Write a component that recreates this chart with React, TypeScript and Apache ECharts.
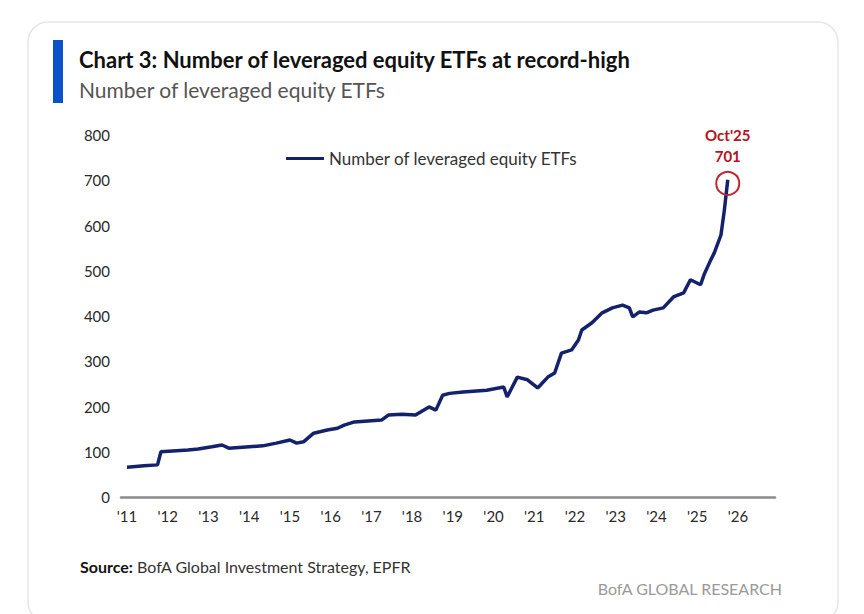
import React, { useEffect, useRef } from "react";
import * as echarts from "echarts";

const seriesName = "Number of leveraged equity ETFs";
const titleText = "Chart 3: Number of leveraged equity ETFs at record-high";
const subtitleText = "Number of leveraged equity ETFs";
const sourceLabel = "Source:";
const sourceText = " BofA Global Investment Strategy, EPFR";
const brandText = "BofA GLOBAL RESEARCH";

const months = [
  "2011-01", "2011-06", "2011-10", "2011-11", "2012-07", "2012-10", "2013-02", "2013-05",
  "2013-07", "2014-05", "2014-09", "2015-01", "2015-03", "2015-05", "2015-08", "2015-12",
  "2016-03", "2016-05", "2016-08", "2017-04", "2017-06", "2017-10", "2018-02", "2018-06",
  "2018-08", "2018-10", "2018-12", "2019-04", "2019-11", "2020-04", "2020-05", "2020-08",
  "2020-11", "2021-02", "2021-05", "2021-07", "2021-09", "2021-12", "2022-02", "2022-03",
  "2022-06", "2022-09", "2022-12", "2023-03", "2023-05", "2023-06", "2023-08", "2023-10",
  "2023-12", "2024-03", "2024-06", "2024-09", "2024-11", "2025-02", "2025-03", "2025-05",
  "2025-06", "2025-08", "2025-09", "2025-10",
];
const etfCounts = [
  66, 69, 71, 100, 104, 106, 111, 115,
  108, 113, 119, 126, 119, 122, 141, 148,
  152, 159, 166, 170, 181, 183, 181, 199,
  192, 225, 229, 232, 236, 243, 221, 265,
  259, 241, 265, 274, 318, 325, 347, 369,
  385, 407, 418, 424, 418, 398, 409, 407,
  413, 418, 442, 451, 480, 469, 491, 524,
  539, 579, 634, 701,
];
const yearTicks = [2011, 2012, 2013, 2014, 2015, 2016, 2017, 2018, 2019, 2020, 2021, 2022, 2023, 2024, 2025, 2026];
const monthNames = ["Jan", "Feb", "Mar", "Apr", "May", "Jun", "Jul", "Aug", "Sep", "Oct", "Nov", "Dec"];

const toYear = (s: string) => {
  const [y, m] = s.split("-").map(Number);
  return y + (m - 1) / 12;
};

const FONT = "Lato";

export default function App() {
  const ref = useRef<HTMLDivElement>(null);
  useEffect(() => {
    document.body.style.margin = "0";
    if (!ref.current) return;
    const chart = echarts.init(ref.current, null, { renderer: "svg" });
    const data = months.map((m, i) => [toYear(m), etfCounts[i]]);
    const last = data[data.length - 1];
    const lastMonth = months[months.length - 1];
    const [ly, lm] = lastMonth.split("-").map(Number);
    const annot = `${monthNames[lm - 1]}'${String(ly).slice(2)}\n${etfCounts[etfCounts.length - 1]}`;

    chart.setOption({
      animation: false,
      backgroundColor: "#ffffff",
      textStyle: { fontFamily: FONT },
      grid: { left: 121, right: 89, top: 135, bottom: 117, containLabel: false },
      legend: {
        left: 281,
        top: 145,
        icon: "rect",
        itemWidth: 38,
        itemHeight: 3,
        textStyle: { fontFamily: FONT, fontSize: 17, color: "#333333" },
        data: [seriesName],
      },
      xAxis: {
        type: "value",
        min: 2010.853,
        max: 2026.91,
        axisLine: { show: true, lineStyle: { color: "#8a8a8a", width: 2.5 } },
        axisTick: { show: false },
        splitLine: { show: false },
        axisLabel: {
          customValues: yearTicks,
          formatter: (v: number) => "'" + String(Math.round(v)).slice(2),
          fontFamily: FONT,
          fontSize: 15,
          color: "#2a2a2a",
          margin: 11,
        },
      },
      yAxis: {
        type: "value",
        min: 0,
        max: 800,
        interval: 100,
        axisLine: { show: false },
        axisTick: { show: false },
        splitLine: { show: false },
        axisLabel: { fontFamily: FONT, fontSize: 15, color: "#2a2a2a", margin: 11 },
      },
      series: [
        {
          name: seriesName,
          type: "line",
          data,
          showSymbol: false,
          lineStyle: { color: "#13226b", width: 3.5 },
          itemStyle: { color: "#13226b" },
          z: 3,
          markPoint: {
            symbol: "circle",
            symbolSize: 23,
            silent: true,
            itemStyle: { color: "rgba(255,255,255,0)", borderColor: "#c0272d", borderWidth: 2 },
            label: {
              show: true,
              position: "top",
              distance: 4,
              formatter: annot,
              fontFamily: FONT,
              fontSize: 15,
              fontWeight: "bold",
              lineHeight: 21,
              color: "#b5121b",
            },
            data: [{ coord: [last[0], last[1] - 8] }],
          },
        },
      ],
      graphic: [
        {
          type: "rect",
          shape: { x: 28, y: 22, width: 810, height: 600, r: 20 },
          style: { fill: "#ffffff", stroke: "#e6e6e6", lineWidth: 1.5 },
          z: -10,
        },
        {
          type: "rect",
          shape: { x: 53, y: 40, width: 10, height: 63 },
          style: { fill: "#0a52c9" },
        },
        {
          type: "text",
          x: 79,
          y: 59,
          style: {
            text: titleText,
            fontFamily: FONT,
            fontSize: 22,
            fontWeight: "bold",
            fill: "#111111",
            verticalAlign: "middle",
          },
        },
        {
          type: "text",
          x: 79,
          y: 89,
          style: {
            text: subtitleText,
            fontFamily: FONT,
            fontSize: 21,
            fill: "#555555",
            verticalAlign: "middle",
          },
        },
        {
          type: "text",
          x: 80,
          y: 566,
          style: {
            text: `{b|${sourceLabel}}{r|${sourceText}}`,
            verticalAlign: "middle",
            rich: {
              b: { fontFamily: FONT, fontSize: 16, fontWeight: "bold", fill: "#111111", color: "#111111" },
              r: { fontFamily: FONT, fontSize: 16, fill: "#333333", color: "#333333" },
            },
          },
        },
        {
          type: "text",
          x: 782,
          y: 588,
          style: {
            text: brandText,
            fontFamily: FONT,
            fontSize: 16,
            fill: "#9a9a9a",
            align: "right",
            verticalAlign: "middle",
          },
        },
      ],
    });
    return () => chart.dispose();
  }, []);
  return <div ref={ref} style={{ width: 864, height: 614 }} />;
}
